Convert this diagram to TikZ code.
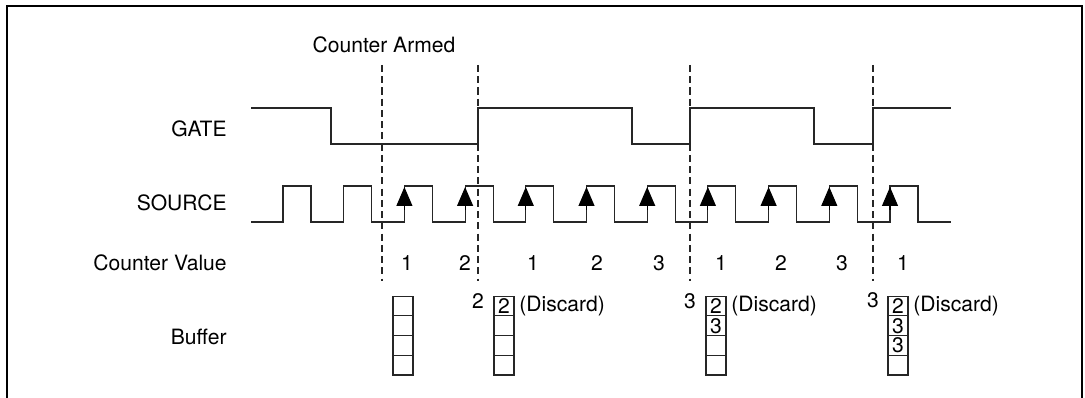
\documentclass[tikz,border=0pt]{standalone}
\usepackage{fontspec}
\setmainfont{TeX Gyre Heros}
\usetikzlibrary{arrows.meta,positioning}

\begin{document}
\begin{tikzpicture}[
  x=0.02cm, y=-0.02cm,
  every node/.style={font=\fontsize{12}{14}\selectfont},
  rowlabel/.style={anchor=east, inner sep=0pt},
  wave/.style={draw=black!85, line width=0.65pt},
  armline/.style={draw=black!85, line width=0.6pt, dash pattern=on 4pt off 2.4pt},
  risetip/.style={-{Triangle[length=0.38cm,width=0.32cm]}, draw=black, fill=black, line width=0.65pt},
  cell/.style={
    draw=black!85,
    line width=0.65pt,
    minimum width=0.4cm,
    minimum height=0.394cm,
    inner sep=0pt,
    outer sep=0pt,
    font=\fontsize{12}{12}\selectfont
  },
  countval/.style={inner sep=0pt},
  discard/.style={inner sep=0pt}
]
  \useasboundingbox (0,0) rectangle (1085,398);
  % frame
  \draw[line width=1.1pt] (7,398) -- (7,6) -- (1082,6) -- (1082,398);

  % row labels
  \node (armed) at (384,45) {Counter Armed};
  \node[rowlabel] (gate) at (227,129) {GATE};
  \node[rowlabel] (source) at (227,203) {SOURCE};
  \node[rowlabel] (value) at (227,263) {Counter Value};
  \node[rowlabel] (buffer) at (227,337) {Buffer};

  % arm / gate edges
  \foreach \i/\x in {1/382,2/478,3/690,4/873} {
    \coordinate (arm\i top) at (\x,65);
    \coordinate (arm\i bot) at (\x,281);
    \draw[armline] (arm\i top) -- (arm\i bot);
  }

  % GATE
  \draw[wave] (251,108) -- (331,108) -- (331,144) -- (478,144) -- (478,108)
    -- (632,108) -- (632,144) -- (690,144) -- (690,108) -- (814,108)
    -- (814,144) -- (873,144) -- (873,108) -- (951,108);

  % SOURCE
  \draw[wave] (251,222) \foreach \k in {0,...,10} {
      -- ({283+60.7*\k},222) -- ++(0,-36) -- ++(28,0) -- ++(0,36)
    } -- (951,222);
  \foreach \k in {2,...,10}
    \draw[risetip] ({283+60.7*\k},210) -- ++(0,-23);

  % counter values
  \node[countval] (v1) at (407,263) {1};
  \node[countval] (v2) at (465,263) {2};
  \node[countval] (v3) at (533,263) {1};
  \node[countval] (v4) at (597,263) {2};
  \node[countval] (v5) at (659,263) {3};
  \node[countval] (v6) at (721,263) {1};
  \node[countval] (v7) at (781,263) {2};
  \node[countval] (v8) at (842,263) {3};
  \node[countval] (v9) at (903,263) {1};

  % latched values
  \node[countval, below=0.24cm of arm2bot] (latch2) {2};
  \node[countval, below=0.24cm of arm3bot] (latch3) {3};
  \node[countval, below=0.22cm of arm4bot] (latch4) {3};

  % buffer 1
  \node[cell] (b1c1) at (403,306) {};
  \node[cell, below=0pt of b1c1] (b1c2) {};
  \node[cell, below=0pt of b1c2] (b1c3) {};
  \node[cell, below=0pt of b1c3] (b1c4) {};

  % buffer 2
  \node[cell] (b2c1) at (504,306) {2};
  \node[cell, below=0pt of b2c1] (b2c2) {};
  \node[cell, below=0pt of b2c2] (b2c3) {};
  \node[cell, below=0pt of b2c3] (b2c4) {};
  \node[discard, right=0.1cm of b2c1] (d2) {(Discard)};

  % buffer 3
  \node[cell] (b3c1) at (716,306) {2};
  \node[cell, below=0pt of b3c1] (b3c2) {3};
  \node[cell, below=0pt of b3c2] (b3c3) {};
  \node[cell, below=0pt of b3c3] (b3c4) {};
  \node[discard, right=0.1cm of b3c1] (d3) {(Discard)};

  % buffer 4
  \node[cell] (b4c1) at (898,306) {2};
  \node[cell, below=0pt of b4c1] (b4c2) {3};
  \node[cell, below=0pt of b4c2] (b4c3) {3};
  \node[cell, below=0pt of b4c3] (b4c4) {};
  \node[discard, right=0.1cm of b4c1] (d4) {(Discard)};
\end{tikzpicture}
\end{document}
